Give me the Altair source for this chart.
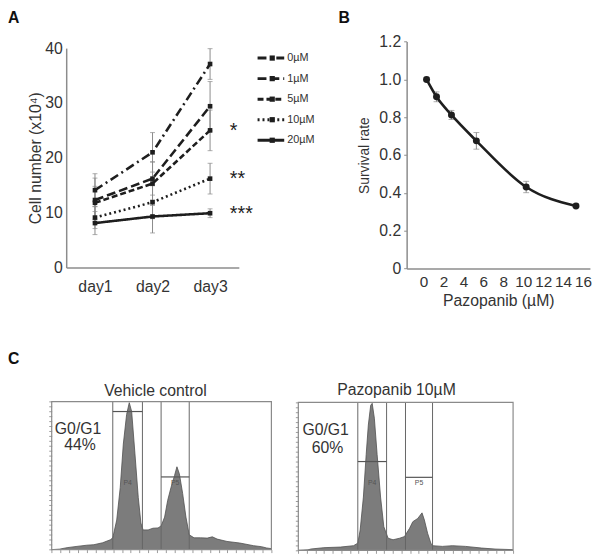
import json
import altair as alt
import pandas as pd

# ---------------- Panel A: cell number over days ----------------
days = [1, 2, 3]
day_labels = ["day1", "day2", "day3"]
series = ["0µM", "1µM", "5µM", "10µM", "20µM"]
cells_0uM = [14.1, 21.0, 37.1]
cells_1uM = [12.3, 16.2, 29.4]
cells_5uM = [11.8, 15.3, 25.0]
cells_10uM = [9.1, 11.9, 16.2]
cells_20uM = [8.1, 9.3, 9.9]
sd_0uM = [3.0, 3.6, 2.8]
sd_1uM = [4.0, 3.0, 4.5]
sd_5uM = [3.0, 4.0, 3.7]
sd_10uM = [2.0, 3.0, 2.8]
sd_20uM = [2.1, 3.0, 0.8]
star_series = ["5µM", "10µM", "20µM"]
star_marks = ["*", "**", "***"]

# ---------------- Panel B: survival vs pazopanib ----------------
dose = [0, 1, 2.5, 5, 10, 15]
survival = [1.0, 0.908, 0.812, 0.675, 0.431, 0.330]
survival_sd = [0.01, 0.026, 0.024, 0.044, 0.03, 0.006]

# ---------------- Panel C: cell-cycle histograms ----------------
c1_channel = [0, 35, 70, 115, 160, 192, 232, 267, 278, 296, 312, 326, 341, 353, 364,
              379, 394, 406, 416, 439, 461, 484, 498, 514, 528, 543, 559, 570, 581,
              596, 611, 626, 648, 677, 708, 731, 753, 798, 856, 919, 955, 978, 1000]
c1_count = [0, 0.5, 2, 3.3, 4.5, 5, 7, 10, 12, 30, 63, 107, 137, 149, 140,
            97, 53, 27, 20, 20, 21.7, 22, 24, 33, 50, 63, 75, 84, 77,
            57, 33, 15, 12, 12, 11.7, 13, 10.7, 8.3, 6.7, 4, 3, 1.7, 1]
c1_gates = [278, 413, 498, 626]
c1_gate_bars = [140, 73.7]

c2_channel = [0, 45, 58, 119, 196, 257, 277, 288, 303, 316, 326, 337, 344, 354, 367,
              383, 398, 418, 441, 472, 495, 499, 518, 533, 556, 576, 587, 602, 617,
              625, 671, 717, 778, 854, 916, 1000]
c2_count = [0, 0.5, 1.3, 2.7, 3.3, 4.7, 7.3, 20.7, 54, 97, 127, 147, 149, 134, 97,
            54, 24, 12.3, 10.7, 12.3, 14, 15.7, 22.3, 29, 32.3, 38, 30.7, 17.3, 7.3,
            4.7, 4, 4.7, 4, 2.3, 1.3, 0.7]
c2_gates = [277, 411, 499, 625]
c2_gate_bars = [90, 74]
gate_names = ["P4", "P5"]

# ---------------- styling / layout ----------------
FONT = "Liberation Sans"
TXT = "#333333"
AXC = "#8c8c8c"
INK = "#1e1e1e"
ERR = "#8a8a8a"
dash_patterns = [[9, 4, 2, 4], [9, 4], [6, 3], [2, 3], [1, 0]]

W, H = 592, 549
A_XR, A_YR = [59, 234], [259.3, 36.9]
B_XR, B_YR = [404.1, 589.9], [260.3, 30.3]
L_XR, L_YR = [253, 280], [47, 130.3]
C1_XR, C1_YR = [44.3, 267], [545.3, 395.3]
C2_XR, C2_YR = [294.3, 512], [546, 396]


def qx(field, scale, axis):
    return alt.X(field, type="quantitative", scale=scale, axis=axis)


def qy(field, scale, axis):
    return alt.Y(field, type="quantitative", scale=scale, axis=axis)


def dx_(v, scale, axis):
    return alt.XDatum(v, type="quantitative", scale=scale, axis=axis)


def dy_(v, scale, axis):
    return alt.YDatum(v, type="quantitative", scale=scale, axis=axis)


common_axis = dict(grid=False, labelFlush=False, labelOverlap=False, domainColor=AXC,
                   domainWidth=1.5, labelFontSize=16, labelColor=TXT, titleFontSize=16,
                   titleFontWeight="normal", titleColor=TXT)

dfone = pd.DataFrame({"k": [0]})

# ---------------- Panel A ----------------
rows = []
for s, vals, sds in zip(series,
                        [cells_0uM, cells_1uM, cells_5uM, cells_10uM, cells_20uM],
                        [sd_0uM, sd_1uM, sd_5uM, sd_10uM, sd_20uM]):
    for d, v, e in zip(days, vals, sds):
        rows.append({"series": s, "day": d, "value": v, "lo": v - e, "hi": v + e})
dfA = pd.DataFrame(rows)

sAx = alt.Scale(domain=[0.5, 3.5], range=A_XR, nice=False, zero=False)
sAy = alt.Scale(domain=[0, 40], range=A_YR, nice=False, zero=False)
axAx = alt.Axis(orient="bottom", offset=A_YR[0] - H, values=days,
                labelExpr=json.dumps(day_labels) + "[datum.value - 1]",
                ticks=False, labelPadding=11, title=None, **common_axis)
axAy = alt.Axis(orient="left", offset=-A_XR[0], values=[0, 10, 20, 30, 40], ticks=False,
                labelPadding=4, title="Cell number (x10⁴)", titlePadding=1, **common_axis)
dash_scale = alt.Scale(domain=series, range=dash_patterns)

baseA = alt.Chart(dfA)
errA = baseA.mark_rule(color=ERR, strokeWidth=1).encode(
    x=qx("day", sAx, axAx), y=qy("lo", sAy, axAy), y2=alt.Y2("hi"))
capLoA = baseA.mark_tick(color=ERR, orient="horizontal", size=5, thickness=1).encode(
    x=qx("day", sAx, axAx), y=qy("lo", sAy, axAy))
capHiA = baseA.mark_tick(color=ERR, orient="horizontal", size=5, thickness=1).encode(
    x=qx("day", sAx, axAx), y=qy("hi", sAy, axAy))
linesA = baseA.mark_line(color=INK, strokeWidth=2.6).encode(
    x=qx("day", sAx, axAx), y=qy("value", sAy, axAy),
    strokeDash=alt.StrokeDash("series:N", scale=dash_scale, legend=None))
ptsA = baseA.mark_point(shape="square", filled=True, size=22, color=INK, opacity=1).encode(
    x=qx("day", sAx, axAx), y=qy("value", sAy, axAy))

last_vals = {s: v[-1] for s, v in zip(series, [cells_0uM, cells_1uM, cells_5uM, cells_10uM, cells_20uM])}
dfStars = pd.DataFrame({"series": star_series, "day": [days[-1]] * len(star_series),
                        "value": [last_vals[s] for s in star_series], "stars": star_marks})
starsA = alt.Chart(dfStars).mark_text(align="left", baseline="alphabetic", dx=20, dy=6.5,
                                      fontSize=20, color=INK).encode(
    x=qx("day", sAx, axAx), y=qy("value", sAy, axAy), text="stars:N")

panelA = alt.layer(errA, capLoA, capHiA, linesA, ptsA, starsA)

# legend for panel A
dfL = pd.DataFrame({"series": series})
sLx = alt.Scale(domain=[0, 1], range=L_XR, nice=False, zero=False)
sLy = alt.Scale(type="point", domain=series, range=L_YR, padding=0)
legY = alt.Y("series:N", scale=sLy, axis=None)
legLine = alt.Chart(dfL).mark_rule(color=INK, strokeWidth=3).encode(
    x=dx_(0, sLx, None), x2=alt.X2Datum(1), y=legY,
    strokeDash=alt.StrokeDash("series:N", scale=dash_scale, legend=None))
legPts = alt.Chart(dfL).mark_point(shape="square", filled=True, size=28, color=INK, opacity=1).encode(
    x=dx_(0.55, sLx, None), y=legY)
legTxt = alt.Chart(dfL).mark_text(align="left", baseline="middle", dx=3, fontSize=11, color=TXT).encode(
    x=dx_(1, sLx, None), y=legY, text="series:N")
legendA = alt.layer(legLine, legPts, legTxt)

# ---------------- Panel B ----------------
dfB = pd.DataFrame({"dose": dose, "surv": survival,
                    "lo": [v - e for v, e in zip(survival, survival_sd)],
                    "hi": [v + e for v, e in zip(survival, survival_sd)]})
sBx = alt.Scale(domain=[-2, 16.4], range=B_XR, nice=False, zero=False)
sBy = alt.Scale(domain=[0, 1.2], range=B_YR, nice=False, zero=False)
axB_common = dict(common_axis)
axB_common["labelFontSize"] = 15.5
axBx = alt.Axis(orient="bottom", offset=B_YR[0] - H, values=list(range(0, 17, 2)), ticks=False,
                labelPadding=6, labelOffset=-3, title="Pazopanib (µM)", titlePadding=3, **axB_common)
axB_common_y = dict(common_axis)
axB_common_y["titleFontSize"] = 14
axBy = alt.Axis(orient="left", offset=-B_XR[0], values=[0, 0.2, 0.4, 0.6, 0.8, 1.0, 1.2],
                labelExpr="datum.value == 0 ? '0' : format(datum.value, '.1f')",
                ticks=True, tickSize=3, tickColor=AXC, labelPadding=3,
                title="Survival rate", titlePadding=7, **axB_common_y)
baseB = alt.Chart(dfB)
errB = baseB.mark_rule(color=ERR, strokeWidth=1).encode(
    x=qx("dose", sBx, axBx), y=qy("lo", sBy, axBy), y2=alt.Y2("hi"))
capLoB = baseB.mark_tick(color=ERR, orient="horizontal", size=6, thickness=1).encode(
    x=qx("dose", sBx, axBx), y=qy("lo", sBy, axBy))
capHiB = baseB.mark_tick(color=ERR, orient="horizontal", size=6, thickness=1).encode(
    x=qx("dose", sBx, axBx), y=qy("hi", sBy, axBy))
curveB = baseB.mark_line(color=INK, strokeWidth=2.6, interpolate="monotone").encode(
    x=qx("dose", sBx, axBx), y=qy("surv", sBy, axBy))
ptsB = baseB.mark_circle(color=INK, size=50, opacity=1).encode(
    x=qx("dose", sBx, axBx), y=qy("surv", sBy, axBy))
panelB = alt.layer(errB, capLoB, capHiB, curveB, ptsB)


# ---------------- Panel C ----------------
def histogram_panel(channel, count, gates, bars, XR, YR, title, title_ch, title_dy, lines):
    sx = alt.Scale(domain=[0, 1000], range=XR, nice=False, zero=False)
    sy = alt.Scale(domain=[0, 150], range=YR, nice=False, zero=False)
    axx = alt.Axis(orient="bottom", offset=YR[0] - H, values=list(range(0, 1001, 40)),
                   labels=False, domain=False, ticks=True, tickSize=3, tickColor="#9a9a9a",
                   grid=False, title=None)
    axy = alt.Axis(orient="left", offset=-XR[0], values=list(range(0, 151, 5)),
                   labels=False, domain=False, ticks=True, tickSize=3, tickColor="#9a9a9a",
                   grid=False, title=None)
    dfh = pd.DataFrame({"ch": channel, "n": count})
    area = alt.Chart(dfh).mark_area(color="#7c7c7c", opacity=1,
                                    line=alt.OverlayMarkDef(color="#505050", strokeWidth=0.8)).encode(
        x=qx("ch", sx, axx), y=qy("n", sy, axy))
    dfg = pd.DataFrame({"g": gates})
    vrules = alt.Chart(dfg).mark_rule(color="#666666", strokeWidth=1).encode(
        x=qx("g", sx, axx), y=dy_(0, sy, axy), y2=alt.Y2Datum(150))
    dfb = pd.DataFrame({"g0": gates[0::2], "g1": gates[1::2], "h": bars, "name": gate_names})
    dfb["mid"] = (dfb["g0"] + dfb["g1"]) / 2
    hbars = alt.Chart(dfb).mark_rule(color="#555555", strokeWidth=1.2).encode(
        x=qx("g0", sx, axx), x2=alt.X2("g1"), y=qy("h", sy, axy))
    plabels = alt.Chart(dfb).mark_text(fontSize=7, color="#555555", baseline="top", dy=1).encode(
        x=qx("mid", sx, axx), y=dy_(73, sy, axy), text="name:N")
    frame = alt.Chart(dfone).mark_rect(fillOpacity=0, stroke="#8a8a8a", strokeWidth=1.2).encode(
        x=dx_(0, sx, axx), x2=alt.X2Datum(1000), y=dy_(0, sy, axy), y2=alt.Y2Datum(150))
    ttl = alt.Chart(dfone).mark_text(fontSize=16, color=TXT, baseline="alphabetic", dy=title_dy,
                                     text=title).encode(x=dx_(title_ch, sx, axx), y=dy_(150, sy, axy))
    layers = [area, vrules, hbars, plabels, frame, ttl]
    for txt, ch, h in lines:
        layers.append(alt.Chart(dfone).mark_text(fontSize=16, color=TXT, baseline="alphabetic",
                                                 text=txt).encode(x=dx_(ch, sx, axx), y=dy_(h, sy, axy)))
    return alt.layer(*layers)


panelC1 = histogram_panel(c1_channel, c1_count, c1_gates, c1_gate_bars, C1_XR, C1_YR,
                          "Vehicle control", 472, -6,
                          [("G0/G1", 120, 117), ("44%", 129, 100.5)])
panelC2 = histogram_panel(c2_channel, c2_count, c2_gates, c2_gate_bars, C2_XR, C2_YR,
                          "Pazopanib 10µM", 457, -7,
                          [("G0/G1", 127, 117), ("60%", 136, 99)])

# ---------------- panel letters ----------------
letters = alt.layer(
    alt.Chart(dfone).mark_text(text="A", fontSize=16, fontWeight="bold", align="left",
                               baseline="alphabetic", color="#111").encode(x=alt.value(0), y=alt.value(11.5)),
    alt.Chart(dfone).mark_text(text="B", fontSize=16, fontWeight="bold", align="left",
                               baseline="alphabetic", color="#111").encode(x=alt.value(335), y=alt.value(11.5)),
    alt.Chart(dfone).mark_text(text="C", fontSize=16, fontWeight="bold", align="left",
                               baseline="alphabetic", color="#111").encode(x=alt.value(0), y=alt.value(357)),
)

chart = alt.layer(panelA, legendA, panelB, panelC1, panelC2, letters).resolve_scale(
    x="independent", y="independent"
).properties(
    width=W, height=H, autosize=alt.AutoSizeParams(type="none"), padding=0
).configure(font=FONT).configure_view(stroke=None)

chart.save("out.html", embed_options={"renderer": "svg", "actions": False})
